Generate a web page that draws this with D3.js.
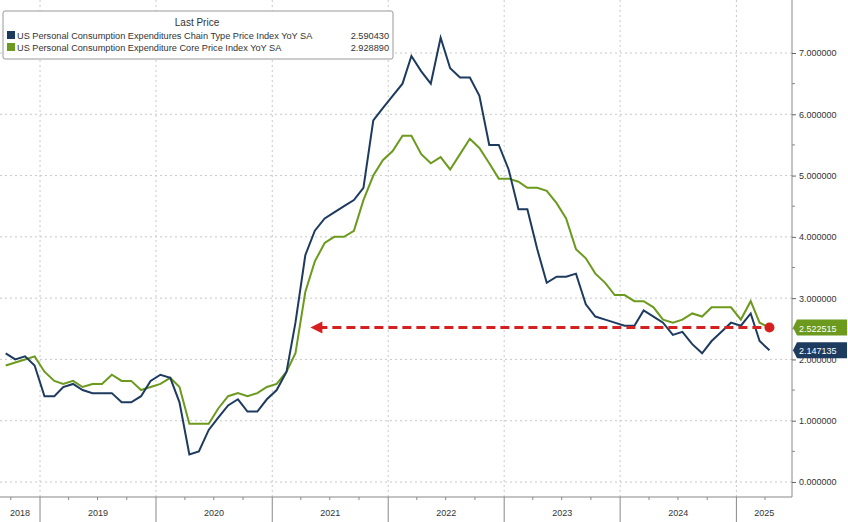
<!DOCTYPE html><html><head><meta charset="utf-8"><script src="https://cdn.jsdelivr.net/npm/d3@7"></script>
<style>body{margin:0;background:#fff}</style></head><body><svg id="c" width="848" height="522"></svg>
<script>
const startMonth = [2018, 8]; // Sep 2018 (0-based month)
const headline = [2.1,2.0,2.05,1.9,
1.4,1.4,1.55,1.6,1.5,1.45,1.45,1.45,1.3,1.3,1.4,1.65,
1.75,1.7,1.3,0.45,0.5,0.85,1.05,1.25,1.35,1.15,1.15,1.35,
1.5,1.8,2.6,3.7,4.1,4.3,4.4,4.5,4.6,4.8,5.9,6.1,
6.3,6.5,6.95,6.7,6.5,7.25,6.75,6.6,6.6,6.3,5.5,5.5,
5.1,4.45,4.45,3.8,3.25,3.35,3.35,3.4,2.9,2.7,2.65,2.6,
2.55,2.55,2.8,2.7,2.6,2.4,2.45,2.25,2.1,2.3,2.45,2.6,
2.55,2.75,2.3,2.15];
const core = [1.9,1.95,2.0,2.05,
1.8,1.65,1.6,1.65,1.55,1.6,1.6,1.75,1.65,1.65,1.5,1.55,
1.6,1.7,1.55,0.95,0.95,0.95,1.2,1.4,1.45,1.4,1.45,1.55,
1.6,1.8,2.1,3.1,3.6,3.9,4.0,4.0,4.1,4.6,5.0,5.25,
5.4,5.65,5.65,5.35,5.2,5.3,5.1,5.35,5.6,5.45,5.2,4.95,
4.95,4.9,4.8,4.8,4.75,4.55,4.3,3.8,3.65,3.4,3.25,3.05,
3.05,2.95,2.95,2.85,2.65,2.6,2.65,2.75,2.7,2.85,2.85,2.85,
2.65,2.95,2.6,2.52];
const yTicks = [0,1,2,3,4,5,6,7];
const years = [2018,2019,2020,2021,2022,2023,2024,2025];
const legendTitle = "Last Price";
const legendNames = ["US Personal Consumption Expenditures Chain Type Price Index YoY SA","US Personal Consumption Expenditure Core Price Index YoY SA"];
const legendVals = ["2.590430","2.928890"];
const lastVals = ["2.522515","2.147135"];
const arrowLevel = 2.52, arrowStart = new Date(2021,4,1);

const svg = d3.select("#c");
const blue="#1d3a5f", green="#6b9a1e";
const dates = headline.map((_,i)=>new Date(startMonth[0], startMonth[1]+i, 15));
const x = d3.scaleTime().domain([new Date(2018,7,28), new Date(2025,5,25)]).range([0,792]);
const y = d3.scaleLinear().domain([0,7]).range([482,53]);
const grid = svg.append("g").attr("stroke","#c8c8c8").attr("stroke-dasharray","2,3");
yTicks.forEach(t=>grid.append("line").attr("x1",0).attr("x2",792).attr("y1",y(t)).attr("y2",y(t)));
years.slice(1).forEach(yr=>grid.append("line").attr("x1",x(new Date(yr,0,1))).attr("x2",x(new Date(yr,0,1))).attr("y1",0).attr("y2",497));
svg.append("line").attr("x1",792).attr("x2",792).attr("y1",0).attr("y2",497).attr("stroke","#888");
svg.append("line").attr("x1",0).attr("x2",792).attr("y1",497).attr("y2",497).attr("stroke","#888");
const ax = svg.append("g").attr("transform","translate(792,0)").call(d3.axisRight(y).tickValues(yTicks).tickSize(4).tickFormat(d=>d3.format(".6f")(d)));
ax.select(".domain").remove();
ax.selectAll("text").attr("font-family","Liberation Sans").attr("font-size",9).attr("fill","#333");
ax.selectAll("line").attr("stroke","#666");
svg.append("g").selectAll("line").data(d3.range(0,7.01,0.5).filter(v=>v%1)).join("line").attr("x1",792).attr("x2",795).attr("y1",d=>y(d)).attr("y2",d=>y(d)).attr("stroke","#888");
years.forEach((yr,i)=>{
  const s = Math.max(0,x(new Date(yr,0,1))), e = Math.min(792, x(new Date(yr+1,0,1)));
  if(i>0) svg.append("line").attr("x1",s).attr("x2",s).attr("y1",497).attr("y2",522).attr("stroke","#888");
  svg.append("text").attr("x",(s+e)/2).attr("y",516).attr("text-anchor","middle").attr("font-family","Liberation Sans").attr("font-size",9).attr("fill","#333").text(yr);
  [3,6,9].forEach(m=>{const xm=x(new Date(yr,m,1)); if(xm>0&&xm<792) svg.append("line").attr("x1",xm).attr("x2",xm).attr("y1",497).attr("y2",500).attr("stroke","#888");});
});
const line = d3.line().x((d,i)=>x(dates[i])).y(d=>y(d));
svg.append("path").datum(core).attr("d",line).attr("fill","none").attr("stroke",green).attr("stroke-width",2);
svg.append("path").datum(headline).attr("d",line).attr("fill","none").attr("stroke",blue).attr("stroke-width",2);
const ax1=x(arrowStart), ax2=x(dates[dates.length-1]), ay=y(arrowLevel);
svg.append("line").attr("x1",ax1+8).attr("x2",ax2).attr("y1",ay).attr("y2",ay).attr("stroke","#d62020").attr("stroke-width",3).attr("stroke-dasharray","9,5");
svg.append("path").attr("d",`M${ax1},${ay} l12,-6 l0,12 z`).attr("fill","#d62020");
svg.append("circle").attr("cx",ax2).attr("cy",ay).attr("r",5).attr("fill","#d62020");
[[lastVals[0],core[core.length-1],green],[lastVals[1],headline[headline.length-1],blue]].forEach(([t,v,c],i)=>{
  let yy=y(v); if(i==1) yy=Math.max(yy, y(core[core.length-1])+21);
  svg.append("path").attr("d",`M793,${yy} l4,-8 h50 v16 h-50 z`).attr("fill",c);
  svg.append("text").attr("x",799).attr("y",yy+4).attr("font-family","Liberation Sans").attr("font-size",9).attr("fill","#fff").text(t);
});
const lg=svg.append("g");
lg.append("rect").attr("x",3).attr("y",11).attr("width",390).attr("height",48).attr("fill","#fff").attr("stroke","#999").attr("rx",2);
lg.append("text").attr("x",197).attr("y",26).attr("text-anchor","middle").attr("font-family","Liberation Sans").attr("font-size",10).attr("fill","#333").text(legendTitle);
[blue,green].forEach((c,i)=>{
  const yy=39+i*12;
  lg.append("rect").attr("x",7).attr("y",yy-8).attr("width",8).attr("height",8).attr("fill",c);
  lg.append("text").attr("x",17).attr("y",yy).attr("font-family","Liberation Sans").attr("font-size",9.2).attr("fill","#333").text(legendNames[i]);
  lg.append("text").attr("x",389).attr("y",yy).attr("text-anchor","end").attr("font-family","Liberation Sans").attr("font-size",9.2).attr("fill","#333").text(legendVals[i]);
});
</script></body></html>
